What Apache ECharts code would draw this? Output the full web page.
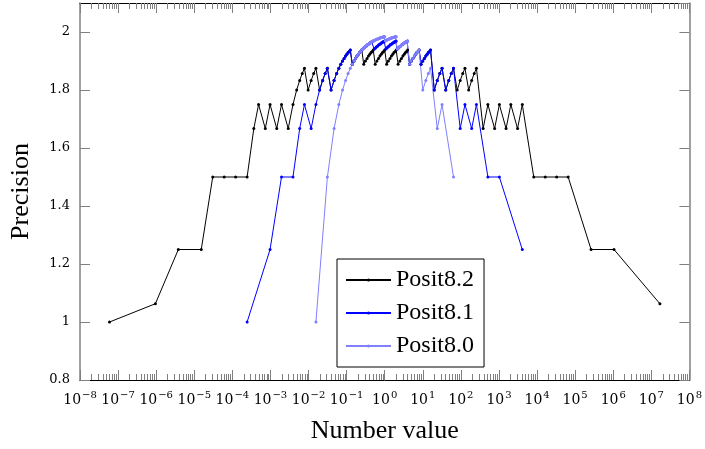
<!DOCTYPE html>
<html>
<head>
    <meta charset="UTF-8">
    <title>Posit precision</title>
    <script src="https://cdn.jsdelivr.net/npm/echarts@6/dist/echarts.min.js"></script>
</head>
<body style="margin:0;">
<div id="main" style="width:705px; height:449px;"></div>
<script type="text/javascript">

    // values of each positive posit and its precision
    var posit82X = [5.9605e-8, 9.5367e-7, 3.8147e-6, 1.5259e-5, 3.0518e-5, 6.1035e-5, 1.2207e-4,
        2.4414e-4, 3.6621e-4, 4.8828e-4, 7.3242e-4, 9.7656e-4, 1.4648e-3, 1.9531e-3, 2.9297e-3,
        0.0039063, 0.0048828, 0.0058594, 0.0068359, 0.0078125, 0.0097656, 0.011719, 0.013672,
        0.015625, 0.019531, 0.023438, 0.027344, 0.03125, 0.039063, 0.046875, 0.054688,
        0.0625, 0.070313, 0.078125, 0.085938, 0.09375, 0.10156, 0.10938, 0.11719,
        0.125, 0.14063, 0.15625, 0.17188, 0.1875, 0.20313, 0.21875, 0.23438,
        0.25, 0.28125, 0.3125, 0.34375, 0.375, 0.40625, 0.4375, 0.46875,
        0.5, 0.5625, 0.625, 0.6875, 0.75, 0.8125, 0.875, 0.9375,
        1, 1.125, 1.25, 1.375, 1.5, 1.625, 1.75, 1.875,
        2, 2.25, 2.5, 2.75, 3, 3.25, 3.5, 3.75,
        4, 4.5, 5, 5.5, 6, 6.5, 7, 7.5,
        8, 9, 10, 11, 12, 13, 14, 15,
        16, 20, 24, 28, 32, 40, 48, 56, 64, 80, 96, 112, 128, 160, 192, 224,
        256, 384, 512, 768, 1024, 1536, 2048, 3072,
        4096, 8192, 16384, 32768, 65536, 262144, 1048576, 16777216];
    var posit82Y = [1, 1.063, 1.25, 1.25, 1.5, 1.5, 1.5,
        1.5, 1.667, 1.75, 1.667, 1.75, 1.667, 1.75, 1.667,
        1.75, 1.8, 1.833, 1.857, 1.875, 1.8, 1.833, 1.857,
        1.875, 1.8, 1.833, 1.857, 1.875, 1.8, 1.833, 1.857,
        1.875, 1.889, 1.9, 1.909, 1.917, 1.923, 1.929, 1.933,
        1.938, 1.889, 1.9, 1.909, 1.917, 1.923, 1.929, 1.933,
        1.938, 1.889, 1.9, 1.909, 1.917, 1.923, 1.929, 1.933,
        1.938, 1.889, 1.9, 1.909, 1.917, 1.923, 1.929, 1.933,
        1.938, 1.889, 1.9, 1.909, 1.917, 1.923, 1.929, 1.933,
        1.938, 1.889, 1.9, 1.909, 1.917, 1.923, 1.929, 1.933,
        1.938, 1.889, 1.9, 1.909, 1.917, 1.923, 1.929, 1.933,
        1.938, 1.889, 1.9, 1.909, 1.917, 1.923, 1.929, 1.933,
        1.938, 1.8, 1.833, 1.857, 1.875, 1.8, 1.833, 1.857, 1.875, 1.8, 1.833, 1.857, 1.875, 1.8, 1.833, 1.857,
        1.875, 1.667, 1.75, 1.667, 1.75, 1.667, 1.75, 1.667,
        1.75, 1.5, 1.5, 1.5, 1.5, 1.25, 1.25, 1.063];

    var posit81X = [2.4414e-4, 9.7656e-4, 1.9531e-3, 0.0039063, 0.0058594, 0.0078125, 0.011719,
        0.015625, 0.019531, 0.023438, 0.027344, 0.03125, 0.039063, 0.046875, 0.054688,
        0.0625, 0.070313, 0.078125, 0.085938, 0.09375, 0.10156, 0.10938, 0.11719,
        0.125, 0.14063, 0.15625, 0.17188, 0.1875, 0.20313, 0.21875, 0.23438,
        0.25, 0.26563, 0.28125, 0.29688, 0.3125, 0.32813, 0.34375, 0.35938,
        0.375, 0.39063, 0.40625, 0.42188, 0.4375, 0.45313, 0.46875, 0.48438,
        0.5, 0.53125, 0.5625, 0.59375, 0.625, 0.65625, 0.6875, 0.71875,
        0.75, 0.78125, 0.8125, 0.84375, 0.875, 0.90625, 0.9375, 0.96875,
        1, 1.0625, 1.125, 1.1875, 1.25, 1.3125, 1.375, 1.4375,
        1.5, 1.5625, 1.625, 1.6875, 1.75, 1.8125, 1.875, 1.9375,
        2, 2.125, 2.25, 2.375, 2.5, 2.625, 2.75, 2.875,
        3, 3.125, 3.25, 3.375, 3.5, 3.625, 3.75, 3.875,
        4, 4.5, 5, 5.5, 6, 6.5, 7, 7.5, 8, 9, 10, 11, 12, 13, 14, 15,
        16, 20, 24, 28, 32, 40, 48, 56,
        64, 96, 128, 192, 256, 512, 1024, 4096];
    var posit81Y = [1, 1.25, 1.5, 1.5, 1.667, 1.75, 1.667,
        1.75, 1.8, 1.833, 1.857, 1.875, 1.8, 1.833, 1.857,
        1.875, 1.889, 1.9, 1.909, 1.917, 1.923, 1.929, 1.933,
        1.938, 1.889, 1.9, 1.909, 1.917, 1.923, 1.929, 1.933,
        1.938, 1.941, 1.944, 1.947, 1.95, 1.952, 1.955, 1.957,
        1.958, 1.96, 1.962, 1.963, 1.964, 1.966, 1.967, 1.968,
        1.969, 1.941, 1.944, 1.947, 1.95, 1.952, 1.955, 1.957,
        1.958, 1.96, 1.962, 1.963, 1.964, 1.966, 1.967, 1.968,
        1.969, 1.941, 1.944, 1.947, 1.95, 1.952, 1.955, 1.957,
        1.958, 1.96, 1.962, 1.963, 1.964, 1.966, 1.967, 1.968,
        1.969, 1.941, 1.944, 1.947, 1.95, 1.952, 1.955, 1.957,
        1.958, 1.96, 1.962, 1.963, 1.964, 1.966, 1.967, 1.968,
        1.969, 1.889, 1.9, 1.909, 1.917, 1.923, 1.929, 1.933, 1.938, 1.889, 1.9, 1.909, 1.917, 1.923, 1.929, 1.933,
        1.938, 1.8, 1.833, 1.857, 1.875, 1.8, 1.833, 1.857,
        1.875, 1.667, 1.75, 1.667, 1.75, 1.5, 1.5, 1.25];

    var posit80X = [0.015625, 0.03125, 0.046875, 0.0625, 0.078125, 0.09375, 0.10938,
        0.125, 0.14063, 0.15625, 0.17188, 0.1875, 0.20313, 0.21875, 0.23438,
        0.25, 0.26563, 0.28125, 0.29688, 0.3125, 0.32813, 0.34375, 0.35938,
        0.375, 0.39063, 0.40625, 0.42188, 0.4375, 0.45313, 0.46875, 0.48438,
        0.5, 0.51563, 0.53125, 0.54688, 0.5625, 0.57813, 0.59375, 0.60938,
        0.625, 0.64063, 0.65625, 0.67188, 0.6875, 0.70313, 0.71875, 0.73438,
        0.75, 0.76563, 0.78125, 0.79688, 0.8125, 0.82813, 0.84375, 0.85938,
        0.875, 0.89063, 0.90625, 0.92188, 0.9375, 0.95313, 0.96875, 0.98438,
        1, 1.0313, 1.0625, 1.0938, 1.125, 1.1563, 1.1875, 1.2188,
        1.25, 1.2813, 1.3125, 1.3438, 1.375, 1.4063, 1.4375, 1.4688,
        1.5, 1.5313, 1.5625, 1.5938, 1.625, 1.6563, 1.6875, 1.7188,
        1.75, 1.7813, 1.8125, 1.8438, 1.875, 1.9063, 1.9375, 1.9688,
        2, 2.125, 2.25, 2.375, 2.5, 2.625, 2.75, 2.875,
        3, 3.125, 3.25, 3.375, 3.5, 3.625, 3.75, 3.875,
        4, 4.5, 5, 5.5, 6, 6.5, 7, 7.5,
        8, 10, 12, 14, 16, 24, 32, 64];
    var posit80Y = [1, 1.5, 1.667, 1.75, 1.8, 1.833, 1.857,
        1.875, 1.889, 1.9, 1.909, 1.917, 1.923, 1.929, 1.933,
        1.938, 1.941, 1.944, 1.947, 1.95, 1.952, 1.955, 1.957,
        1.958, 1.96, 1.962, 1.963, 1.964, 1.966, 1.967, 1.968,
        1.969, 1.97, 1.971, 1.971, 1.972, 1.973, 1.974, 1.974,
        1.975, 1.976, 1.976, 1.977, 1.977, 1.978, 1.978, 1.979,
        1.979, 1.98, 1.98, 1.98, 1.981, 1.981, 1.981, 1.982,
        1.982, 1.982, 1.983, 1.983, 1.983, 1.984, 1.984, 1.984,
        1.984, 1.97, 1.971, 1.971, 1.972, 1.973, 1.974, 1.974,
        1.975, 1.976, 1.976, 1.977, 1.977, 1.978, 1.978, 1.979,
        1.979, 1.98, 1.98, 1.98, 1.981, 1.981, 1.981, 1.982,
        1.982, 1.982, 1.983, 1.983, 1.983, 1.984, 1.984, 1.984,
        1.984, 1.941, 1.944, 1.947, 1.95, 1.952, 1.955, 1.957,
        1.958, 1.96, 1.962, 1.963, 1.964, 1.966, 1.967, 1.968,
        1.969, 1.889, 1.9, 1.909, 1.917, 1.923, 1.929, 1.933,
        1.938, 1.8, 1.833, 1.857, 1.875, 1.667, 1.75, 1.5];

    var seriesNames = ['Posit8.2', 'Posit8.1', 'Posit8.0'];
    var seriesColors = ['#000000', '#0000ff', '#8080ff'];

    // tick labels: decades 10^-8 .. 10^8, minor ticks at 2..9 per decade
    var xExponents = [-8, -7, -6, -5, -4, -3, -2, -1, 0, 1, 2, 3, 4, 5, 6, 7, 8];
    var minorMantissas = [2, 3, 4, 5, 6, 7, 8, 9];
    var yTicks = [0.8, 1, 1.2, 1.4, 1.6, 1.8, 2];

    function pairs(xs, ys) {
        var out = [];
        for (var i = 0; i < xs.length; i++) out.push([xs[i], ys[i]]);
        return out;
    }

    // minor tick positions in log10 space for a linear overlay axis
    var minorTicks = [];
    for (var d = 0; d < xExponents.length - 1; d++) {
        for (var m = 0; m < minorMantissas.length; m++) {
            minorTicks.push(xExponents[d] + Math.log10(minorMantissas[m]));
        }
    }

    var tickColor = '#808080';
    var serif = 'DejaVu Serif';

    var myChart = echarts.init(document.getElementById('main'));

    var mainTick = { show: true, inside: true, length: 10, lineStyle: { color: tickColor, width: 1 } };
    var minorTick = { show: true, inside: true, length: 6, lineStyle: { color: tickColor, width: 1 }, customValues: minorTicks };

    var option = {
        animation: false,
        backgroundColor: '#ffffff',
        grid: { left: 77, right: 12, top: 3, bottom: 69, containLabel: false },
        legend: {
            data: seriesNames,
            orient: 'vertical',
            left: 337,
            top: 259,
            itemWidth: 45,
            itemHeight: 4,
            itemGap: 7,
            padding: [8, 10, 8, 8],
            borderColor: '#000000',
            borderWidth: 1,
            backgroundColor: '#ffffff',
            selectedMode: false,
            textStyle: { fontFamily: 'Liberation Serif', fontSize: 24, lineHeight: 26, color: '#000' }
        },
        xAxis: [
            {
                type: 'log', logBase: 10, min: 1e-8, max: 1e8, interval: 1, splitNumber: 16,
                position: 'bottom',
                name: 'Number value', nameLocation: 'middle', nameGap: 38,
                nameTextStyle: { fontFamily: 'Liberation Serif', fontSize: 26, color: '#000' },
                axisLine: { onZero: false, lineStyle: { color: '#000', width: 1 } },
                axisTick: mainTick,
                splitLine: { show: false },
                axisLabel: {
                    margin: 10,
                    formatter: function (v) {
                        var e = Math.round(Math.log10(v));
                        return '{b|10}{s|' + (e < 0 ? '\u2212' + (-e) : e) + '}';
                    },
                    rich: {
                        b: { fontFamily: serif, fontSize: 14, color: '#000' },
                        s: { fontFamily: serif, fontSize: 10, color: '#000', padding: [0, 0, 10, 1] }
                    }
                }
            },
            {
                type: 'log', logBase: 10, min: 1e-8, max: 1e8, interval: 1, splitNumber: 16,
                position: 'top',
                axisLine: { onZero: false, lineStyle: { color: '#000', width: 1 } },
                axisTick: mainTick,
                axisLabel: { show: false },
                splitLine: { show: false }
            },
            {
                type: 'value', min: -8, max: 8, position: 'bottom',
                axisLine: { show: false, onZero: false }, axisLabel: { show: false }, splitLine: { show: false },
                axisTick: minorTick
            },
            {
                type: 'value', min: -8, max: 8, position: 'top',
                axisLine: { show: false, onZero: false }, axisLabel: { show: false }, splitLine: { show: false },
                axisTick: minorTick
            }
        ],
        yAxis: [
            {
                type: 'value', min: 0.8, max: 2.1, interval: 0.2,
                position: 'left',
                name: 'Precision', nameLocation: 'middle', nameGap: 46,
                nameTextStyle: { fontFamily: 'Liberation Serif', fontSize: 26, color: '#000' },
                axisLine: { show: true, onZero: false, lineStyle: { color: tickColor, width: 1.5 } },
                axisTick: mainTick,
                splitLine: { show: false },
                axisLabel: {
                    margin: 10, showMaxLabel: false,
                    fontFamily: serif, fontSize: 13, color: '#000',
                    formatter: function (v) {
                        for (var i = 0; i < yTicks.length; i++) {
                            if (Math.abs(yTicks[i] - v) < 1e-6) return String(yTicks[i]);
                        }
                        return '';
                    }
                }
            },
            {
                type: 'value', min: 0.8, max: 2.1, interval: 0.2,
                position: 'right',
                axisLine: { show: true, onZero: false, lineStyle: { color: tickColor, width: 1.5 } },
                axisTick: mainTick,
                axisLabel: { show: false },
                splitLine: { show: false }
            }
        ],
        series: [
            { name: seriesNames[0], type: 'line', data: pairs(posit82X, posit82Y) },
            { name: seriesNames[1], type: 'line', data: pairs(posit81X, posit81Y) },
            { name: seriesNames[2], type: 'line', data: pairs(posit80X, posit80Y) }
        ].map(function (s, i) {
            s.xAxisIndex = 0;
            s.yAxisIndex = 0;
            s.symbol = 'circle';
            s.symbolSize = 3;
            s.showSymbol = true;
            s.color = seriesColors[i];
            s.lineStyle = { color: seriesColors[i], width: 1 };
            s.itemStyle = { color: seriesColors[i] };
            s.emphasis = { disabled: true };
            return s;
        })
    };

    myChart.setOption(option);

</script>
</body>
</html>
